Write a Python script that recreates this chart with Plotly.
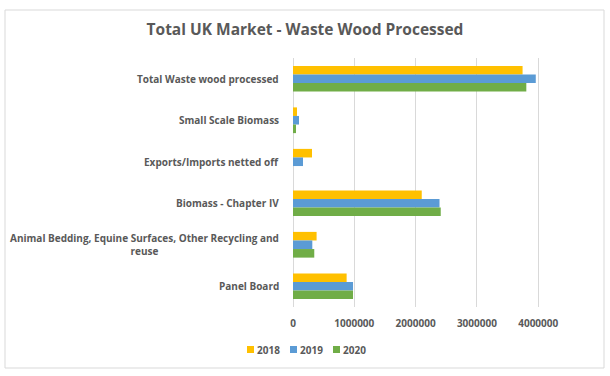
import plotly.graph_objects as go

categories = [
    "Total Waste wood processed",
    "Small Scale Biomass",
    "Exports/Imports netted off",
    "Biomass - Chapter IV",
    "Animal Bedding, Equine Surfaces, Other Recycling and<br>reuse",
    "Panel Board",
]
years = ["2018", "2019", "2020"]
v2018 = [3745000, 65000, 310000, 2100000, 385000, 875000]
v2019 = [3960000, 98000, 163000, 2390000, 315000, 979000]
v2020 = [3806000, 49000, 0, 2410000, 347000, 979000]
colors = ["#FFC000", "#5B9BD5", "#70AD47"]
x_ticks = [0, 1000000, 2000000, 3000000, 4000000]

W, H = 610, 376
L, R, T, B = 293, 35, 58, 69
pw, ph = W - L - R, H - T - B
gray = "#595959"

def px_x(p):
    return (p - L) / pw

def px_y(p):
    return -(p - (T + ph)) / ph

fig = go.Figure()
for name, vals, c in zip(years, [v2018, v2019, v2020], colors):
    fig.add_trace(go.Bar(y=categories, x=vals, name=name, orientation="h",
                         marker=dict(color=c, line=dict(width=0)),
                         showlegend=False))

for cat in categories:
    fig.add_annotation(x=0, xref="paper", y=cat, yref="y", text=f"<b>{cat}</b>",
                       xanchor="right", yanchor="middle", align="center",
                       xshift=-12, showarrow=False,
                       font=dict(family="Open Sans", size=10, color=gray))

# legend: colour squares + labels
legend_x = [247, 290, 333]
for yr, c, p in zip(years, colors, legend_x):
    fig.add_shape(type="rect", xref="paper", yref="paper",
                  x0=px_x(p), x1=px_x(p + 7), y0=px_y(353), y1=px_y(346),
                  fillcolor=c, line=dict(width=0))
    fig.add_annotation(x=px_x(p + 8), xref="paper", y=px_y(349.5), yref="paper",
                       text=f"<b>{yr}</b>", xanchor="left", yanchor="middle",
                       showarrow=False,
                       font=dict(family="Open Sans", size=10, color=gray))

fig.update_layout(
    width=W, height=H,
    margin=dict(l=L, r=R, t=T, b=B),
    paper_bgcolor="white", plot_bgcolor="white",
    barmode="group", bargap=0.38, bargroupgap=0,
    title=dict(text="<b>Total UK Market - Waste Wood Processed</b>",
               x=0.5, xref="container", xanchor="center",
               y=1 - 30 / H, yanchor="middle",
               font=dict(family="Open Sans", size=15.5, color=gray)),
    xaxis=dict(range=[0, 4600000], tickvals=x_ticks,
               ticktext=[f"<b>{v}</b>" for v in x_ticks],
               showgrid=True, gridcolor="#D9D9D9", gridwidth=1,
               zeroline=True, zerolinecolor="#D9D9D9", zerolinewidth=1,
               showline=False, ticks="", ticklabelstandoff=9,
               tickfont=dict(family="Open Sans", size=10, color=gray)),
    yaxis=dict(autorange="reversed", showticklabels=False, showgrid=False,
               zeroline=False, showline=False, ticks=""),
    showlegend=False,
)

fig.add_shape(type="rect", xref="paper", yref="paper",
              x0=px_x(5), x1=px_x(604), y0=px_y(368), y1=px_y(10),
              line=dict(color="#D9D9D9", width=1), layer="below")

fig.write_html("out.html")
